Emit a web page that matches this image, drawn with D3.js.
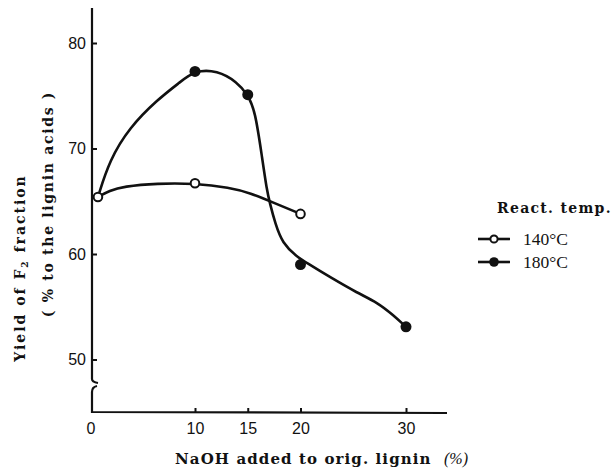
<!DOCTYPE html>
<html>
<head>
<meta charset="utf-8">
<script src="https://cdn.jsdelivr.net/npm/d3@7"></script>
<style>
  html, body { margin: 0; padding: 0; background: #fff; }
  svg { display: block; }
  .tick text { font-family: "Liberation Sans Narrow", "Liberation Sans", sans-serif; font-size: 16px; fill: #111; }
</style>
</head>
<body>
<svg id="chart" width="615" height="472"></svg>
<script>
// NaOH added (%) and yield of F2 fraction (%) at each reaction temperature
const naoh140 = [0.8, 10, 20];
const yield140 = [65.4, 66.7, 63.8];
const naoh180 = [10, 15, 20, 30];
const yield180 = [77.3, 75.1, 59.0, 53.1];

// hand-drawn fitted curves through the measurements
const curve140X = [0.8, 1.9, 3.2, 6.4, 10, 13.3, 15.2, 17.6, 20];
const curve140Y = [65.4, 66.0, 66.4, 66.7, 66.7, 66.3, 65.8, 64.8, 63.8];
const curve180X = [0.8, 0.8, 1.9, 3.8, 6.4, 8.6, 10, 12.1, 14.0, 15, 15.7, 16.35, 16.8, 17.1, 17.6, 18.3, 19.6, 20.6, 22.8, 25.4, 27.3, 28.8, 30, 30];
const curve180Y = [65.4, 65.4, 68.9, 72.0, 74.6, 76.3, 77.4, 77.4, 76.3, 75.1, 73.6, 69.2, 66.1, 64.8, 62.9, 61.0, 59.8, 59.15, 57.8, 56.3, 55.4, 54.2, 53.1, 53.1];

const xTicks = [0, 10, 15, 20, 30];
const yTicks = [50, 60, 70, 80];
const legendLabels = ["140°C", "180°C"];

const ink = "#111";
const boldSerif = "DejaVu Serif, serif";
const svg = d3.select("#chart");

const x = d3.scaleLinear().domain([0, 30]).range([89.5, 406]);
const y = d3.scaleLinear().domain([50, 80]).range([359.5, 43]);

const axisX = 92, baseY = 412;

// y axis with a break near the bottom
const g = svg.append("g").attr("fill", "none").attr("stroke", ink).attr("stroke-width", 2.2);
g.append("path").attr("d", `M${axisX},8 L${axisX},379 q0,3 6,4`);
g.append("path").attr("d", `M${axisX + 5},386 q-5,1 -5,6 L${axisX},${baseY} L447,${baseY + 1}`);

// y ticks pointing inward
const yAxis = d3.axisLeft(y).tickValues(yTicks).tickSize(-5).tickPadding(6).tickFormat(d3.format("d"));
const gy = svg.append("g").attr("transform", `translate(${axisX},0)`).call(yAxis);
gy.select(".domain").remove();
gy.selectAll(".tick line").attr("stroke", ink).attr("stroke-width", 2);

// x ticks pointing inward
const xAxis = d3.axisBottom(x).tickValues(xTicks).tickSize(-4).tickPadding(11).tickFormat(d3.format("d"));
const gx = svg.append("g").attr("transform", `translate(0,${baseY})`).call(xAxis);
gx.select(".domain").remove();
gx.selectAll(".tick line").attr("stroke", ink).attr("stroke-width", 2).attr("display", d => d === 0 ? "none" : null);
gx.selectAll(".tick text").attr("dx", d => d === 0 ? "1px" : "0");

// curves
const line = d3.line().x(d => x(d[0])).y(d => y(d[1])).curve(d3.curveBasis);
svg.append("path")
  .attr("d", line(d3.zip(curve180X, curve180Y)))
  .attr("fill", "none").attr("stroke", ink).attr("stroke-width", 2.6);
svg.append("path")
  .attr("d", line(d3.zip(curve140X, curve140Y)))
  .attr("fill", "none").attr("stroke", ink).attr("stroke-width", 2.6);

// markers
svg.append("g").selectAll("circle").data(d3.zip(naoh180, yield180)).join("circle")
  .attr("cx", d => x(d[0])).attr("cy", d => y(d[1])).attr("r", 5.5).attr("fill", ink);
svg.append("g").selectAll("circle").data(d3.zip(naoh140, yield140)).join("circle")
  .attr("cx", d => x(d[0])).attr("cy", d => y(d[1])).attr("r", 4.3)
  .attr("fill", "#fff").attr("stroke", ink).attr("stroke-width", 2);

// axis titles
svg.append("text")
  .attr("x", 175).attr("y", 464)
  .attr("font-family", boldSerif).attr("font-weight", "bold")
  .attr("font-size", 15).attr("letter-spacing", 1.1).attr("fill", ink)
  .text("NaOH added to orig. lignin");
svg.append("text")
  .attr("x", 444).attr("y", 464)
  .attr("font-family", "Liberation Serif, serif").attr("font-style", "italic")
  .attr("font-size", 16).attr("fill", ink)
  .text("(%)");

const yt1 = svg.append("text")
  .attr("transform", "translate(25,268) rotate(-90)")
  .attr("text-anchor", "middle")
  .attr("font-family", boldSerif).attr("font-weight", "bold")
  .attr("font-size", 14).attr("letter-spacing", 2).attr("fill", ink);
yt1.append("tspan").text("Yield of F");
yt1.append("tspan").attr("font-size", 9).attr("dy", 3).text("2");
yt1.append("tspan").attr("dy", -3).text(" fraction");

svg.append("text")
  .attr("transform", "translate(53,204) rotate(-90)")
  .attr("text-anchor", "middle")
  .attr("font-family", boldSerif).attr("font-weight", "bold")
  .attr("font-size", 14).attr("letter-spacing", 1.7).attr("fill", ink)
  .attr("xml:space", "preserve")
  .text("( % to the lignin acids )");

// legend
svg.append("text")
  .attr("x", 497).attr("y", 213)
  .attr("font-family", boldSerif).attr("font-weight", "bold")
  .attr("font-size", 14).attr("letter-spacing", 1.3).attr("fill", ink)
  .text("React. temp.");

const leg = svg.append("g").selectAll("g").data(legendLabels).join("g")
  .attr("transform", (d, i) => `translate(0,${239 + i * 23})`);
leg.append("line").attr("x1", 478).attr("x2", 510).attr("y1", 0).attr("y2", 0)
  .attr("stroke", ink).attr("stroke-width", 2.6);
leg.append("circle").attr("cx", 494).attr("cy", 0)
  .attr("r", (d, i) => i === 0 ? 3.6 : 4.8)
  .attr("fill", (d, i) => i === 0 ? "#fff" : ink)
  .attr("stroke", ink).attr("stroke-width", (d, i) => i === 0 ? 2 : 0);
leg.append("text").attr("x", 523).attr("y", 6)
  .attr("font-family", "Liberation Serif, serif").attr("font-size", 17.5).attr("fill", ink)
  .text(d => d);
</script>
</body>
</html>
